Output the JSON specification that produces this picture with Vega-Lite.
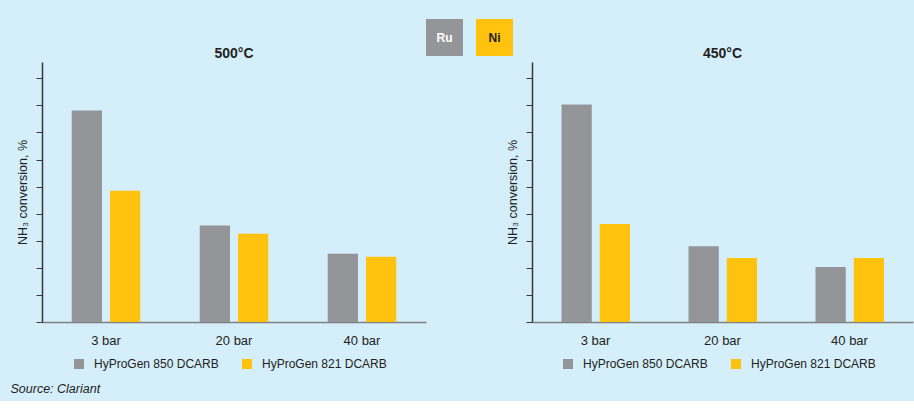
{
  "$schema": "https://vega.github.io/schema/vega-lite/v6.json",
  "background": "#d4eefa",
  "padding": {"left": 10, "top": 19, "right": 1, "bottom": 5},
  "config": {
    "font": "Liberation Sans",
    "view": {"stroke": null},
    "axis": {"labelColor": "#231f20", "titleColor": "#231f20"}
  },
  "datasets": {
    "d": [
      {"temp": "500°C", "pressure": "3 bar", "catalyst": "HyProGen 850 DCARB", "metal": "Ru", "value": 7.81},
      {"temp": "500°C", "pressure": "3 bar", "catalyst": "HyProGen 821 DCARB", "metal": "Ni", "value": 4.85},
      {"temp": "500°C", "pressure": "20 bar", "catalyst": "HyProGen 850 DCARB", "metal": "Ru", "value": 3.56},
      {"temp": "500°C", "pressure": "20 bar", "catalyst": "HyProGen 821 DCARB", "metal": "Ni", "value": 3.26},
      {"temp": "500°C", "pressure": "40 bar", "catalyst": "HyProGen 850 DCARB", "metal": "Ru", "value": 2.52},
      {"temp": "500°C", "pressure": "40 bar", "catalyst": "HyProGen 821 DCARB", "metal": "Ni", "value": 2.41},
      {"temp": "450°C", "pressure": "3 bar", "catalyst": "HyProGen 850 DCARB", "metal": "Ru", "value": 8.03},
      {"temp": "450°C", "pressure": "3 bar", "catalyst": "HyProGen 821 DCARB", "metal": "Ni", "value": 3.62},
      {"temp": "450°C", "pressure": "20 bar", "catalyst": "HyProGen 850 DCARB", "metal": "Ru", "value": 2.80},
      {"temp": "450°C", "pressure": "20 bar", "catalyst": "HyProGen 821 DCARB", "metal": "Ni", "value": 2.36},
      {"temp": "450°C", "pressure": "40 bar", "catalyst": "HyProGen 850 DCARB", "metal": "Ru", "value": 2.03},
      {"temp": "450°C", "pressure": "40 bar", "catalyst": "HyProGen 821 DCARB", "metal": "Ni", "value": 2.36}
    ]
  },
  "title": {
    "text": "Source: Clariant",
    "orient": "bottom",
    "anchor": "start",
    "dx": -6,
    "offset": 13,
    "fontSize": 12.5,
    "fontStyle": "italic",
    "fontWeight": "normal",
    "color": "#231f20"
  },
  "spacing": 106,
  "bounds": "flush",
  "resolve": {"scale": {"color": "independent"}, "legend": {"color": "independent"}},
  "hconcat": [
    {
      "width": 384,
      "height": 260,
      "title": {"text": "500°C", "fontSize": 14, "fontWeight": "bold", "anchor": "middle", "frame": "group", "offset": 1, "color": "#231f20"},
      "data": {"name": "d"},
      "transform": [{"filter": "datum.temp === '500°C'"}],
      "encoding": {
        "x": {
          "field": "pressure", "type": "nominal", "sort": ["3 bar", "20 bar", "40 bar"],
          "scale": {"paddingInner": 0.465, "paddingOuter": 0.2325},
          "axis": {"title": null, "labelAngle": 0, "ticks": false, "domainColor": "#808080", "domainWidth": 1.5, "labelFontSize": 13, "labelPadding": 12}
        },
        "xOffset": {
          "field": "catalyst", "type": "nominal", "sort": ["HyProGen 850 DCARB", "HyProGen 821 DCARB"],
          "scale": {"paddingInner": 0.21, "paddingOuter": 0}
        },
        "y": {
          "field": "value", "type": "quantitative",
          "scale": {"domain": [0, 9.6], "nice": false},
          "axis": {"title": "NH₃ conversion, %", "values": [0, 1, 2, 3, 4, 5, 6, 7, 8, 9], "labels": false, "grid": false, "tickSize": 6, "tickColor": "#3a3a3a", "domainColor": "#3a3a3a", "domainWidth": 1.5, "titleFontSize": 12.5, "titleFontWeight": "normal", "titlePadding": 6}
        }
      },
      "layer": [
        {
          "mark": {"type": "bar"},
          "encoding": {
            "color": {
              "field": "catalyst", "type": "nominal",
              "scale": {"domain": ["HyProGen 850 DCARB", "HyProGen 821 DCARB"], "range": ["#939598", "#ffc20e"]},
              "legend": {"title": null, "orient": "none", "legendX": 31, "legendY": 296, "direction": "horizontal", "symbolType": "square", "symbolSize": 100, "symbolStrokeWidth": 0, "labelFontSize": 12, "labelOffset": 9, "columnPadding": 22, "labelColor": "#231f20", "labelLimit": 300}
            }
          }
        },
        {
          "mark": {"type": "point", "filled": true, "size": 0},
          "encoding": {
            "fill": {
              "field": "metal", "type": "nominal",
              "scale": {"domain": ["Ru", "Ni"], "range": ["#939598", "#ffc20e"]},
              "legend": {
                "title": null, "orient": "none", "legendX": 384, "legendY": -43, "direction": "horizontal",
                "symbolType": "square", "symbolSize": 1369, "symbolStrokeWidth": 0, "symbolOpacity": 1,
                "labelFontSize": 12, "labelFontWeight": "bold", "labelAlign": "center", "labelOffset": -18.5, "columnPadding": 13,
                "encode": {"labels": {"update": {"fill": {"signal": "datum.label === 'Ru' ? '#ffffff' : '#231f20'"}}}}
              }
            }
          }
        }
      ]
    },
    {
      "width": 381,
      "height": 260,
      "title": {"text": "450°C", "fontSize": 14, "fontWeight": "bold", "anchor": "middle", "frame": "group", "offset": 1, "color": "#231f20"},
      "data": {"name": "d"},
      "transform": [{"filter": "datum.temp === '450°C'"}],
      "mark": {"type": "bar"},
      "encoding": {
        "x": {
          "field": "pressure", "type": "nominal", "sort": ["3 bar", "20 bar", "40 bar"],
          "scale": {"paddingInner": 0.465, "paddingOuter": 0.2325},
          "axis": {"title": null, "labelAngle": 0, "ticks": false, "domainColor": "#808080", "domainWidth": 1.5, "labelFontSize": 13, "labelPadding": 12}
        },
        "xOffset": {
          "field": "catalyst", "type": "nominal", "sort": ["HyProGen 850 DCARB", "HyProGen 821 DCARB"],
          "scale": {"paddingInner": 0.21, "paddingOuter": 0}
        },
        "y": {
          "field": "value", "type": "quantitative",
          "scale": {"domain": [0, 9.6], "nice": false},
          "axis": {"title": "NH₃ conversion, %", "values": [0, 1, 2, 3, 4, 5, 6, 7, 8, 9], "labels": false, "grid": false, "tickSize": 6, "tickColor": "#3a3a3a", "domainColor": "#3a3a3a", "domainWidth": 1.5, "titleFontSize": 12.5, "titleFontWeight": "normal", "titlePadding": 6}
        },
        "color": {
          "field": "catalyst", "type": "nominal",
          "scale": {"domain": ["HyProGen 850 DCARB", "HyProGen 821 DCARB"], "range": ["#939598", "#ffc20e"]},
          "legend": {"title": null, "orient": "none", "legendX": 30, "legendY": 296, "direction": "horizontal", "symbolType": "square", "symbolSize": 100, "symbolStrokeWidth": 0, "labelFontSize": 12, "labelOffset": 9, "columnPadding": 22, "labelColor": "#231f20", "labelLimit": 300}
        }
      }
    }
  ]
}
